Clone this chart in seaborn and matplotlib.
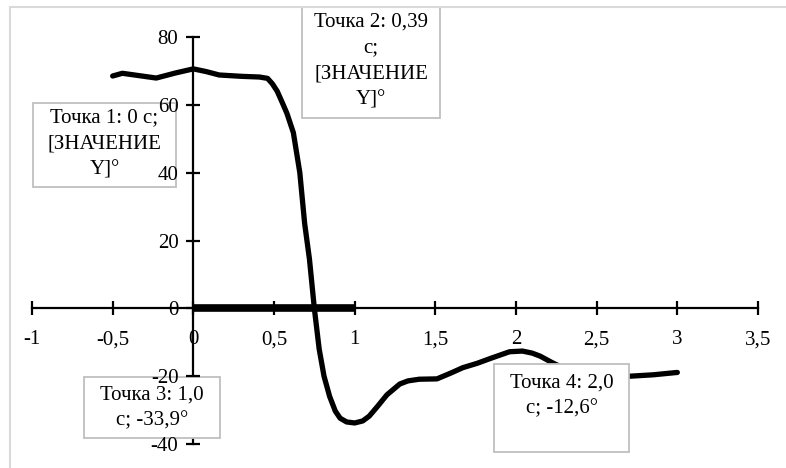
import matplotlib
matplotlib.use("Agg")
import matplotlib.pyplot as plt
import seaborn as sns
import pandas as pd
from matplotlib.patches import Rectangle
from matplotlib.ticker import FuncFormatter

# время, с  /  угол, °
time = [-0.5, -0.44, -0.35, -0.23, -0.11, 0.0, 0.08, 0.16, 0.3, 0.41, 0.46, 0.49,
        0.52, 0.55, 0.58, 0.62, 0.66, 0.69, 0.72, 0.75, 0.78, 0.81, 0.845, 0.88,
        0.91, 0.95, 1.0, 1.05, 1.09, 1.14, 1.2, 1.28, 1.33, 1.4, 1.51, 1.6, 1.67,
        1.76, 1.84, 1.96, 2.04, 2.1, 2.15, 2.22, 2.3, 2.4, 2.5, 2.6, 2.71, 2.85, 3.0]
angle = [68.5, 69.3, 68.7, 67.9, 69.4, 70.6, 69.8, 68.8, 68.4, 68.2, 67.8, 66.2,
         64.0, 60.8, 57.5, 51.8, 40.0, 25.0, 14.4, 0.0, -12.0, -20.0, -26.0, -30.3,
         -32.4, -33.5, -33.8, -33.2, -31.8, -29.0, -25.5, -22.3, -21.4, -20.9, -20.8,
         -19.0, -17.5, -16.2, -14.8, -12.8, -12.6, -13.2, -14.1, -15.9, -17.8, -19.4,
         -20.2, -20.2, -20.0, -19.6, -18.9]

seg_x = [0, 1]
seg_y = [0, 0]

x_ticks = [-1, -0.5, 0, 0.5, 1, 1.5, 2, 2.5, 3, 3.5]
y_ticks = [-40, -20, 0, 20, 40, 60, 80]

labels = [
    ["Точка 1: 0 с;", "[ЗНАЧЕНИЕ", "Y]°"],
    ["Точка 2: 0,39", "с;", "[ЗНАЧЕНИЕ", "Y]°"],
    ["Точка 3: 1,0", "с; -33,9°"],
    ["Точка 4: 2,0", "с; -12,6°"],
]

df = pd.DataFrame({"t": time, "a": angle})

sns.set_style("white")
plt.rcParams["font.family"] = ["Liberation Serif", "DejaVu Serif"]

W, H = 786, 468
fig = plt.figure(figsize=(W / 100, H / 100), dpi=100)
ax = fig.add_axes([32 / W, (H - 444) / H, 726 / W, 407 / H])
ax.patch.set_alpha(0)

sns.lineplot(data=df, x="t", y="a", sort=False, color="black", lw=3.8,
             solid_capstyle="round", solid_joinstyle="round", ax=ax, zorder=1.5)
sns.lineplot(x=seg_x, y=seg_y, color="black", lw=5.5, solid_capstyle="butt",
             ax=ax, zorder=1.5)

ax.set_xlim(-1, 3.5)
ax.set_ylim(-40, 80)
ax.set_xticks(x_ticks)
ax.set_yticks(y_ticks)
fmt = FuncFormatter(lambda v, p: f"{v:g}".replace(".", ","))
ax.xaxis.set_major_formatter(fmt)
ax.yaxis.set_major_formatter(fmt)
ax.set_xlabel("")
ax.set_ylabel("")

for s in ["top", "right"]:
    ax.spines[s].set_visible(False)
ax.spines["left"].set_position(("data", 0))
ax.spines["bottom"].set_position(("data", 0))
for s in ["left", "bottom"]:
    ax.spines[s].set_linewidth(1.6)
    ax.spines[s].set_color("black")
    ax.spines[s].set_zorder(1)
ax.tick_params(axis="both", direction="inout", length=9.5, width=1.6,
               labelsize=15, colors="black", bottom=True, left=True)
ax.tick_params(axis="x", pad=11)
ax.tick_params(axis="y", pad=6)
ax.xaxis.set_zorder(3)
ax.yaxis.set_zorder(3)


def fx(px):
    return px / W


def fy(py):
    return 1 - py / H


# рамка области диаграммы
fig.add_artist(Rectangle((fx(10), fy(480)), (800 - 10) / W, (480 - 7) / H,
                         transform=fig.transFigure, facecolor="none",
                         edgecolor="#d9d9d9", lw=1.5, zorder=1))

# подписи точек
boxes = [(33, 103, 176, 187), (302, 7, 440, 118), (84, 377, 220, 438), (494, 364, 629, 452)]
first_line = [118, 22, 395, 383]
for (x0, y0, x1, y1), lines, ly in zip(boxes, labels, first_line):
    ax.add_patch(Rectangle((fx(x0), fy(y1)), (x1 - x0) / W, (y1 - y0) / H,
                           transform=fig.transFigure, facecolor="white",
                           edgecolor="#bfbfbf", lw=1.3, zorder=2, clip_on=False))
    cx = (x0 + x1) / 2
    for i, line in enumerate(lines):
        ax.text(fx(cx), fy(ly + i * 26), line, transform=fig.transFigure,
                ha="center", va="center", fontsize=15, color="black", zorder=2.2)

fig.savefig("out.png", dpi=100)
